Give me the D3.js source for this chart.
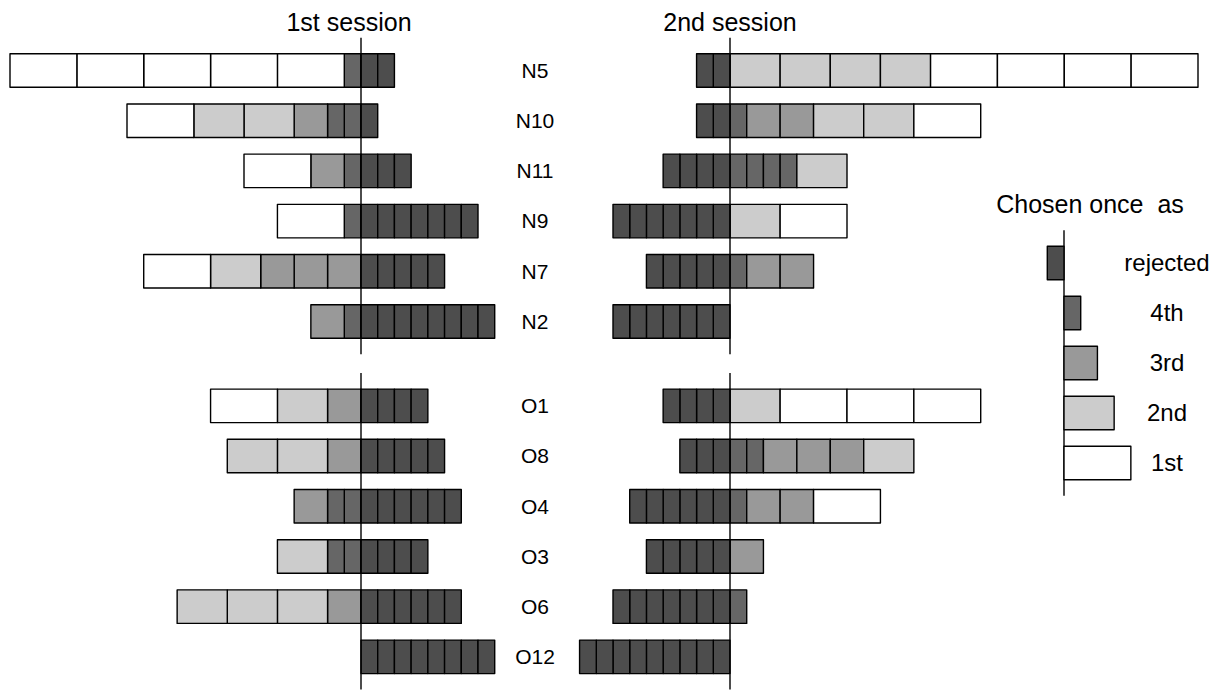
<!DOCTYPE html>
<html>
<head>
<meta charset="utf-8">
<script src="https://cdn.jsdelivr.net/npm/d3@7"></script>
<style>
  body { margin: 0; background: #fff; }
  text { font-family: Arial, "Liberation Sans", sans-serif; fill: #000; }
</style>
</head>
<body>
<svg id="chart"></svg>
<script>
// rows, top to bottom
const categories = ['N5', 'N10', 'N11', 'N9', 'N7', 'N2', 'O1', 'O8', 'O4', 'O3', 'O6', 'O12'];

// number of times chosen as 1st / 2nd / 3rd / 4th / rejected, 1st session
const first1    = [5, 1, 1, 1, 1, 0, 1, 0, 0, 0, 0, 0];
const second1   = [0, 2, 0, 0, 1, 0, 1, 2, 0, 1, 3, 0];
const third1    = [0, 1, 1, 0, 3, 1, 1, 1, 1, 0, 1, 0];
const fourth1   = [1, 2, 1, 1, 0, 1, 0, 0, 2, 2, 0, 0];
const rejected1 = [2, 1, 3, 7, 5, 8, 4, 5, 6, 4, 6, 8];

// same for the 2nd session
const first2    = [4, 1, 0, 1, 0, 0, 3, 0, 1, 0, 0, 0];
const second2   = [4, 2, 1, 1, 0, 0, 1, 1, 0, 0, 0, 0];
const third2    = [0, 2, 0, 0, 2, 0, 0, 3, 2, 1, 0, 0];
const fourth2   = [0, 1, 4, 0, 1, 0, 0, 2, 1, 0, 1, 0];
const rejected2 = [2, 2, 4, 7, 5, 7, 4, 3, 6, 5, 7, 9];

const ranks = ['rejected', '4th', '3rd', '2nd', '1st'];
const rankWeight = { '1st': 4, '2nd': 3, '3rd': 2, '4th': 1, 'rejected': 1 };
const rankColor = { '1st': '#ffffff', '2nd': '#cccccc', '3rd': '#999999', '4th': '#666666', 'rejected': '#4d4d4d' };

const width = 1222, height = 691;
const svg = d3.select('#chart').attr('width', width).attr('height', height);

// row slots: a gap between the N group and the O group
const slot = (i) => i + (i >= 6 ? 0.68 : 0);
const y = d3.scaleLinear().domain([0, 1]).range([70.5, 120.7]);
const barH = 33.5;

// one unit = one "4th" box
const x1 = d3.scaleLinear().domain([-21, 0]).range([10, 361]);
const x2 = d3.scaleLinear().domain([0, 28]).range([730, 1198]);

// build boxes for a session; posDir = direction of positive choices
function boxes(counts, posDir) {
  const out = [];
  categories.forEach((cat, i) => {
    let pos = 0;
    ['4th', '3rd', '2nd', '1st'].forEach(r => {
      for (let k = 0; k < counts[r][i]; k++) {
        const w = rankWeight[r];
        out.push({ cat, i, rank: r, a: pos * posDir, b: (pos + w) * posDir });
        pos += w;
      }
    });
    let neg = 0;
    for (let k = 0; k < counts.rejected[i]; k++) {
      out.push({ cat, i, rank: 'rejected', a: -neg * posDir, b: -(neg + 1) * posDir });
      neg += 1;
    }
  });
  return out;
}

const s1 = boxes({ '1st': first1, '2nd': second1, '3rd': third1, '4th': fourth1, rejected: rejected1 }, -1);
const s2 = boxes({ '1st': first2, '2nd': second2, '3rd': third2, '4th': fourth2, rejected: rejected2 }, 1);

function drawSession(data, x, cls) {
  svg.append('g').selectAll('rect.' + cls)
    .data(data)
    .enter().append('rect')
    .attr('class', cls)
    .attr('x', d => Math.min(x(d.a), x(d.b)))
    .attr('width', d => Math.abs(x(d.b) - x(d.a)))
    .attr('y', d => y(slot(d.i)) - barH / 2)
    .attr('height', barH)
    .attr('fill', d => rankColor[d.rank])
    .attr('stroke', '#000')
    .attr('stroke-width', 1.4)
    .attr('stroke-linejoin', 'round');

  // centre lines, one per group
  [[0, 5], [6, 11]].forEach(([a, b]) => {
    svg.append('line')
      .attr('x1', x(0)).attr('x2', x(0))
      .attr('y1', y(slot(a)) - barH / 2 - 16)
      .attr('y2', y(slot(b)) + barH / 2 + 16)
      .attr('stroke', '#000')
      .attr('stroke-width', 1.4);
  });
}

drawSession(s1, x1, 's1');
drawSession(s2, x2, 's2');

// row labels
svg.append('g').selectAll('text.label')
  .data(categories)
  .enter().append('text')
  .attr('class', 'label')
  .attr('x', 535)
  .attr('y', (d, i) => y(slot(i)))
  .attr('dy', '0.35em')
  .attr('text-anchor', 'middle')
  .style('font-size', '21px')
  .text(d => d);

// session titles
svg.append('text').attr('x', 349).attr('y', 31).attr('text-anchor', 'middle')
  .style('font-size', '25px').text('1st session');
svg.append('text').attr('x', 730).attr('y', 31).attr('text-anchor', 'middle')
  .style('font-size', '25px').text('2nd session');

// legend
const xl = d3.scaleLinear().domain([0, 1]).range([1064, 1064 + 16.714]);
const yl = d3.scaleLinear().domain([0, 1]).range([263, 313]);

svg.append('text').attr('x', 1090).attr('y', 213).attr('text-anchor', 'middle')
  .attr('xml:space', 'preserve').style('white-space', 'pre')
  .style('font-size', '25px').text('Chosen once  as');

svg.append('line')
  .attr('x1', xl(0)).attr('x2', xl(0))
  .attr('y1', yl(0) - barH / 2 - 16).attr('y2', yl(4) + barH / 2 + 16)
  .attr('stroke', '#000').attr('stroke-width', 1.4);

const lg = svg.append('g').selectAll('g')
  .data(ranks)
  .enter().append('g');

lg.append('rect')
  .attr('x', d => d === 'rejected' ? xl(-1) : xl(0))
  .attr('width', d => xl(rankWeight[d]) - xl(0))
  .attr('y', (d, i) => yl(i) - barH / 2)
  .attr('height', barH)
  .attr('fill', d => rankColor[d])
  .attr('stroke', '#000')
  .attr('stroke-width', 1.4)
  .attr('stroke-linejoin', 'round');

lg.append('text')
  .attr('x', 1167)
  .attr('y', (d, i) => yl(i))
  .attr('dy', '0.35em')
  .attr('text-anchor', 'middle')
  .style('font-size', '24px')
  .text(d => d);
</script>
</body>
</html>
